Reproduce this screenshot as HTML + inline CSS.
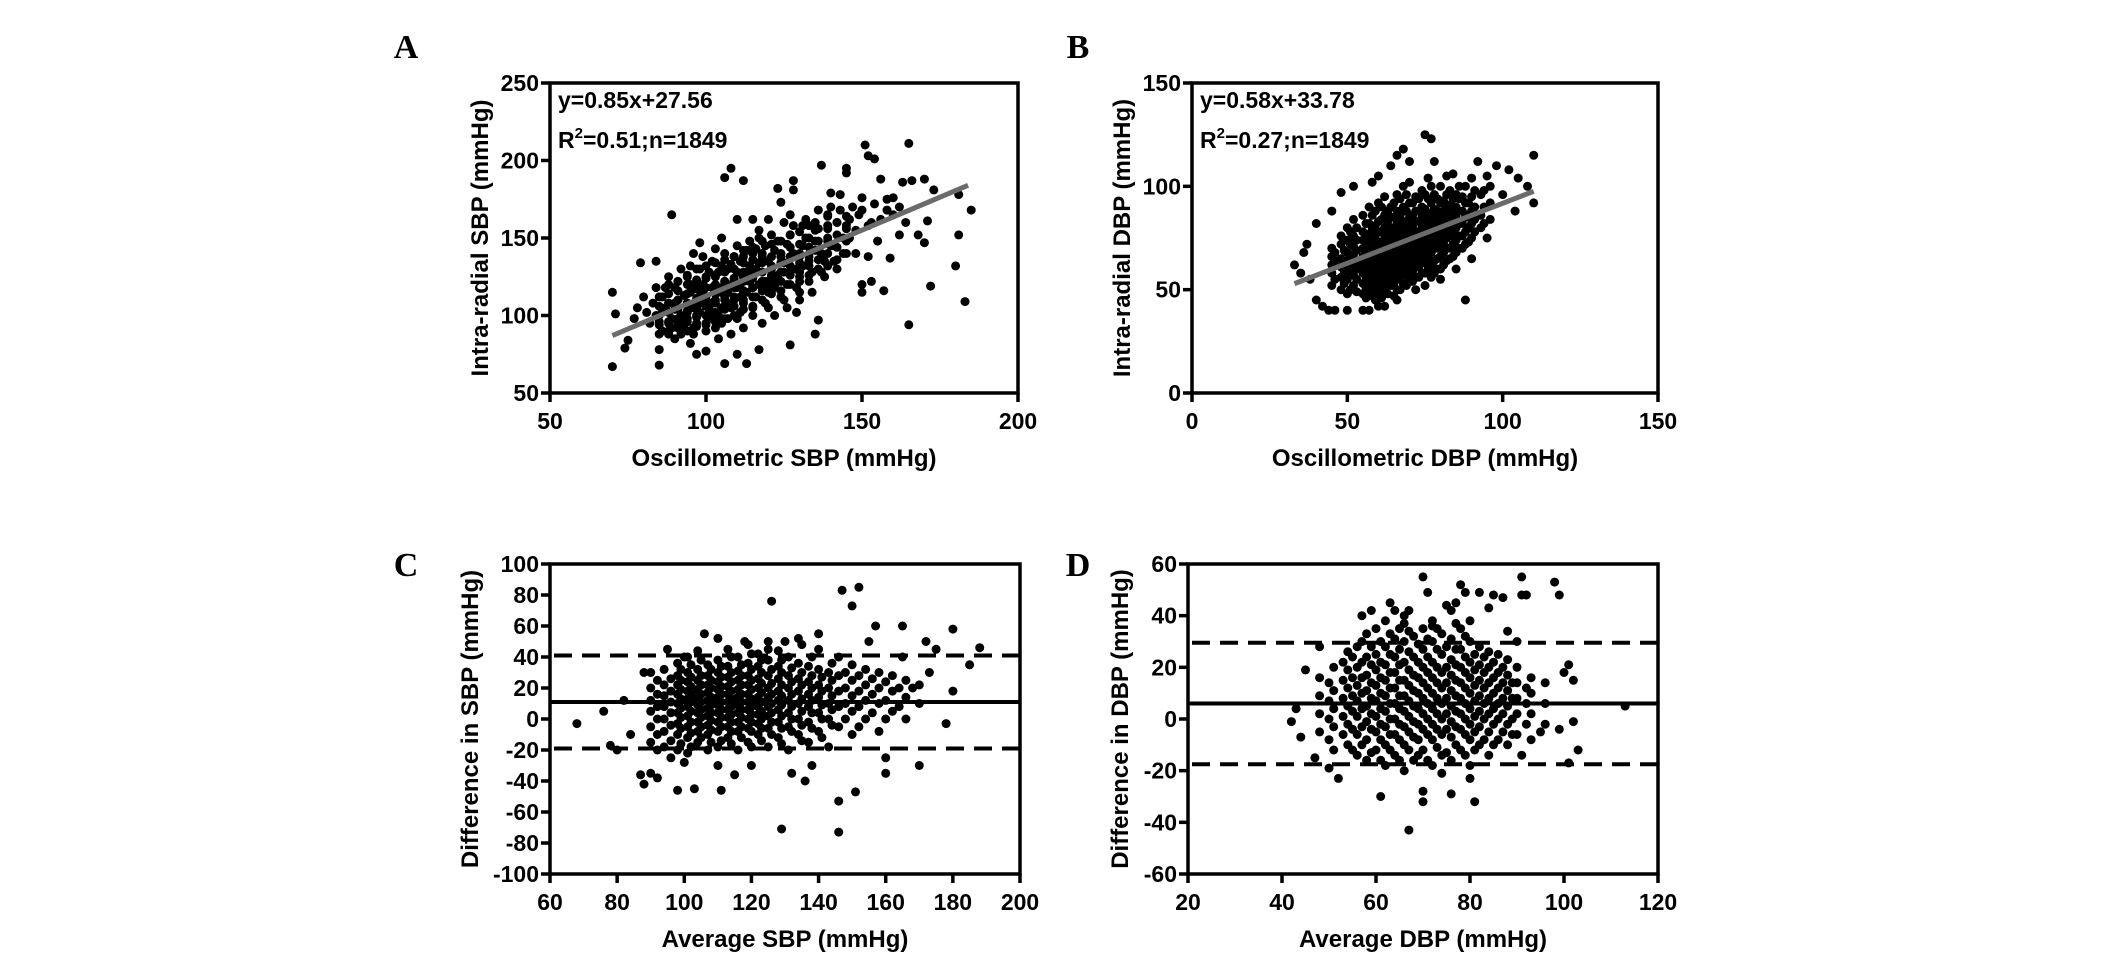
<!DOCTYPE html>
<html><head><meta charset="utf-8"><style>
html,body{margin:0;padding:0;background:#fff;width:2126px;height:954px;overflow:hidden}
svg{display:block}
text{font-family:"Liberation Sans",Arial,sans-serif;font-weight:bold;fill:#000}
.letter{font-family:"Liberation Serif","Times New Roman",serif;font-size:34px}
</style></head><body>
<svg id="fig" width="2126" height="954" viewBox="0 0 2126 954"></svg>
<script>
// ---------- Data ----------
const aPoints = [[70,67],[70,115],[71,101],[74,79],[75,84],[77,98],[79,134],[84,135],[85,68],[85,78],[89,165],[106,189],[108,195],[112,187],[106,69],[110,75],[113,69],[117,78],[127,81],[129,102],[135,88],[136,97],[137,197],[151,210],[152,203],[154,201],[165,211],[165,94],[172,119],[180,132],[181,152],[183,109],[185,168],[181,178],[173,181],[170,188],[166,187],[163,186],[160,176],[157,116],[153,122],[150,115],[150,120],[159,137],[170,147],[168,152],[171,161],[145,192],[145,195],[128,187],[128,181],[123,182],[124,173],[140,179],[143,178],[155,148],[152,138],[148,140],[156,188],[158,168],[162,152],[164,160],[147,170],[150,176],[153,160],[139,165],[142,160],[135,155],[132,150],[125,160],[120,162],[117,155],[115,162],[110,162],[105,150],[98,147],[96,140],[92,130],[88,125],[84,118],[80,112],[78,105],[82,95],[86,90],[90,85],[95,82],[97,75],[100,77],[104,85],[108,88],[112,92],[118,95],[122,100],[126,105],[130,110],[134,115],[138,125],[142,130],[144,140],[146,150],[141,145],[137,140],[133,135],[129,130],[125,128],[121,125],[117,120],[113,115],[109,110],[105,105],[101,100],[97,95],[93,92],[89,98],[87,105],[91,110],[95,115],[99,120],[103,125],[107,130],[111,135],[115,140],[119,145],[123,148],[127,152],[131,145],[135,142],[139,150],[128,140],[124,138],[120,135],[116,130],[112,125],[108,120],[104,115],[100,110],[96,105],[92,100],[88,95],[84,100],[86,112],[90,118],[94,125],[98,130],[102,135],[106,140],[110,145],[114,148],[118,128],[122,118],[126,120],[130,125],[134,128],[138,135],[94,108],[98,112],[102,118],[106,122],[110,128],[114,132],[118,138],[122,142],[126,146],[130,138],[100,95],[104,100],[108,105],[112,108],[116,112],[120,115],[124,112],[96,92],[92,88],[88,88],[90,104],[94,98],[98,102],[102,108],[106,112],[110,118],[114,122],[118,110],[103,92],[107,98],[111,102],[115,105],[119,108],[97,118],[101,128],[105,132],[109,138],[113,142],[117,150],[121,152],[99,138],[103,143],[95,132],[91,122],[87,118],[83,108],[81,102],[85,96],[89,92],[93,96],[97,100],[101,104],[105,118],[109,124],[113,128],[117,134],[121,130],[125,134],[129,118],[133,122],[137,128],[141,135],[145,158],[149,165],[143,168],[139,158],[135,160],[131,158],[127,165],[107,108],[111,112],[115,118],[119,122],[123,126],[100,125],[104,128],[108,133],[112,138],[116,143],[95,120],[99,115],[103,110],[107,115],[111,120],[115,125],[119,118],[93,113],[91,95],[96,88],[100,90],[105,95],[110,98],[115,100],[120,105],[125,110],[130,115],[102,98],[98,108],[94,103],[90,108],[86,102],[140,145],[144,150],[148,155],[152,158],[156,162],[160,165],[146,162],[150,168],[154,172],[158,175],[162,170],[135,148],[131,132],[127,128],[123,122],[128,158],[132,162],[136,168],[140,170]];
const aColumns = [[85,[88,94,100,106,112]],[88,[90,96,102,108,114,120]],[91,[92,98,104,110,116,122]],[94,[90,96,102,108,114,120,126]],[97,[93,99,105,111,117,123,130]],[100,[94,100,106,112,118,124,132]],[103,[96,102,108,114,120,126,134]],[106,[98,104,110,116,122,128,136]],[109,[100,106,112,118,124,130,138]],[112,[104,110,116,122,128,134,142]],[115,[106,112,118,124,130,136,144]],[118,[110,116,122,128,134,140,148]],[121,[114,120,126,132,138,146]],[124,[116,122,128,134,140,148]],[127,[120,126,132,138,144,152]],[130,[122,128,134,140,146,154]],[133,[126,132,138,144,150,158]],[136,[130,136,142,148,156]],[139,[132,140,148,156,164]],[142,[136,144,152,160]],[145,[140,148,156,164]]];

const bOutliers = [[33,62],[35,58],[38,55],[40,45],[42,42],[44,40],[46,40],[50,40],[55,40],[57,40],[60,42],[62,42],[66,45],[72,50],[88,45],[75,125],[77,123],[68,118],[66,115],[70,112],[60,105],[58,102],[52,100],[48,97],[45,88],[40,82],[37,72],[36,68],[110,115],[110,92],[108,100],[105,104],[102,108],[98,110],[92,112],[95,105],[100,96],[104,88],[95,75],[90,65],[85,60],[80,55],[75,52],[64,110],[82,105],[86,100],[78,112]];
const bColumns = [[45,[52,58,62,66,70]],[48,[50,56,61,65,72,76]],[50,[48,55,60,64,68,74,80]],[52,[52,57,62,67,71,76,84]],[55,[48,53,58,62,66,70,74,78,86]],[57,[50,55,60,64,68,72,77,82,90]],[60,[48,52,57,61,65,69,73,78,83,92]],[62,[50,54,59,63,67,71,75,80,86,95]],[64,[52,56,60,64,68,72,76,80,85,90]],[66,[50,55,60,65,69,73,77,82,88,96]],[68,[53,58,62,66,70,74,78,83,90,100]],[70,[55,60,64,68,72,76,80,85,92,102]],[72,[56,61,66,70,74,78,83,88,95]],[74,[58,63,68,72,76,80,85,90,98]],[76,[60,65,70,74,78,82,87,94,104]],[78,[58,64,70,75,80,84,89,96]],[80,[60,66,72,77,82,87,92,100]],[82,[64,70,75,80,85,90,96]],[84,[66,72,78,83,88,94,106]],[86,[70,76,82,88,94]],[88,[72,78,85,92,100]],[90,[75,82,88,95,104]],[93,[80,86,96]],[96,[84,92,100]]];
const bColumns2 = [[46,[55,64,68]],[49,[53,59,63,69,74]],[51,[50,58,62,66,72,78]],[53,[49,55,60,64,69,74,80]],[56,[46,51,56,60,64,68,72,76,82]],[58,[47,53,58,62,66,70,75,80,86]],[59,[45,50,55,59,63,67,71,76,81,88]],[61,[46,52,56,61,65,69,73,78,84,90]],[63,[48,53,58,62,66,70,74,78,83,88]],[65,[47,53,58,62,67,71,75,79,85,92]],[67,[50,56,60,64,68,72,76,80,86,94]],[69,[52,57,62,66,70,74,78,82,88,96]],[71,[54,59,63,68,72,76,81,86,92]],[73,[56,61,65,70,74,78,83,88,94]],[75,[58,63,67,72,76,80,84,89,96]],[77,[56,62,68,72,77,82,86,92,100]],[79,[60,65,70,74,79,84,88,94]],[81,[62,68,73,78,83,88,93]],[83,[65,70,76,81,86,91,98]],[85,[68,74,80,85,90,96]],[87,[70,76,82,88,95]],[89,[73,80,86,92]],[91,[78,84,90,98]],[94,[82,90,98]]];

const cOutliers = [[68,-3],[76,5],[78,-17],[80,-20],[87,-36],[88,-42],[90,-35],[92,-38],[98,-46],[103,-45],[111,-46],[115,-36],[129,-71],[136,-40],[146,-53],[146,-73],[151,-47],[147,83],[150,73],[152,85],[126,76],[157,60],[165,60],[172,50],[175,45],[180,58],[188,46],[180,18],[178,-3],[170,-30],[160,-25],[160,-35],[168,20],[173,30],[165,40],[185,35],[155,50],[140,55],[135,48],[130,50],[125,45],[118,50],[110,52],[106,55],[100,40],[95,45],[132,-35],[138,-30],[120,-30],[110,-30],[100,-28],[96,-25],[92,-20],[84,-10],[82,12],[88,30]];
const cColumns = [[90,[-15,-5,5,12,20,30]],[94,[-18,-8,0,8,15,22,32]],[98,[-20,-10,-3,4,10,16,22,28,36]],[101,[-22,-12,-5,2,8,13,18,24,30,40]],[104,[-15,-8,-2,4,9,14,19,25,32,44]],[107,[-20,-10,-4,2,7,12,17,22,28,35]],[110,[-18,-8,-2,4,9,14,19,24,30,38]],[113,[-12,-5,1,6,11,16,21,27,34,45]],[116,[-20,-8,-2,4,9,14,19,25,31,40]],[119,[-15,-6,0,6,11,16,22,28,36,48]],[122,[-10,-3,3,8,14,20,26,34,42]],[125,[-18,-6,2,8,14,20,28,38,50]],[128,[-12,-2,6,12,18,26,34,44]],[131,[-20,-5,4,12,20,28,40]],[134,[-10,0,10,18,26,36,52]],[137,[-15,-2,8,16,24,34]],[140,[-8,4,14,22,32,45]],[143,[-18,0,10,20,30]],[146,[-5,8,18,28,40]],[150,[-10,5,15,25,35]],[154,[0,12,22,32]],[158,[-8,10,20,30]],[162,[5,18,28]],[166,[0,14,25]],[170,[10,22]]];
const cColumns2 = [[92,[-10,0,8,16,25]],[96,[-14,-4,4,11,18,26]],[99,[-16,-6,1,7,13,19,25,32]],[102,[-18,-9,-2,5,11,16,21,27,35]],[105,[-12,-5,1,6,11,16,22,28,38]],[108,[-15,-7,-1,4,9,14,20,25,32]],[111,[-14,-5,1,6,11,16,21,27,34]],[114,[-16,-8,-2,3,8,13,18,24,30,40]],[117,[-12,-5,1,6,11,16,22,28,35]],[120,[-18,-8,-2,3,8,13,19,25,32,42]],[123,[-14,-6,0,5,11,17,23,30,38]],[126,[-10,-2,4,10,16,23,32]],[129,[-16,-6,2,9,15,22,30,38]],[132,[-8,0,8,16,24,33]],[135,[-14,-4,5,13,22,30]],[138,[-6,4,12,20,28,40]],[141,[-12,0,9,18,27]],[144,[-4,6,15,25,36]],[148,[0,10,20,30]],[152,[-5,8,18,28]],[156,[4,16,26]],[160,[0,12,24]],[164,[8,20]]];

const dOutliers = [[42,-1],[43,4],[44,-7],[45,19],[47,-15],[48,28],[50,-19],[52,-23],[57,40],[59,42],[61,-30],[63,45],[64,42],[67,-43],[70,-28],[70,-32],[70,55],[71,49],[74,-21],[76,-29],[78,52],[79,49],[80,-23],[81,-32],[82,49],[85,48],[87,47],[91,55],[91,48],[92,48],[98,53],[99,48],[100,18],[101,21],[102,15],[103,-12],[102,-1],[99,-4],[113,5],[101,-17],[91,-14],[95,-5],[90,30],[88,34],[75,44],[77,45],[67,42],[66,37],[72,36],[80,38],[84,43]];
const dColumns = [[48,[-5,2,9,16]],[51,[-12,-3,4,11,20]],[54,[-10,-2,5,12,19,26]],[56,[-14,-6,1,7,13,20,28]],[58,[-16,-8,-1,5,11,17,24,33]],[60,[-12,-5,1,7,13,19,25,35]],[62,[-18,-10,-3,3,9,15,21,28,38]],[64,[-14,-6,0,6,12,18,24,31]],[66,[-20,-10,-3,3,9,15,22,30,40]],[68,[-16,-7,-1,5,11,17,24,32]],[70,[-12,-4,2,8,14,20,27,35]],[72,[-18,-8,-2,4,10,16,22,30,38]],[74,[-14,-6,0,6,12,18,25,33]],[76,[-16,-7,-1,5,11,17,23,31,42]],[78,[-12,-4,2,8,14,20,27,35]],[80,[-18,-8,-2,4,10,16,22,30]],[82,[-10,-3,3,9,15,21,28]],[84,[-14,-5,2,8,14,20,26]],[86,[-8,0,6,12,18,25]],[88,[-10,-2,5,11,17,23]],[90,[-6,2,8,14,20]],[93,[-8,2,10,16]],[96,[-2,6,14]]];
const dColumns2 = [[50,[-8,0,7,14]],[53,[-6,1,8,15,22]],[55,[-12,-4,3,9,16,24]],[57,[-10,-3,4,10,16,22,30]],[59,[-13,-4,2,8,14,21,28]],[61,[-16,-8,-2,4,10,16,22,30]],[63,[-12,-6,0,6,12,18,25,33]],[65,[-16,-8,-2,4,9,15,21,27,35]],[67,[-12,-5,1,7,13,19,26,34]],[69,[-14,-8,-2,4,10,16,22,29]],[71,[-16,-6,0,6,12,18,24,31]],[73,[-11,-4,2,8,14,20,27,35]],[75,[-13,-4,2,8,14,20,28]],[77,[-10,-3,3,9,15,21,27,37]],[79,[-14,-6,0,6,12,18,24,32]],[81,[-12,-5,1,7,13,19,25]],[83,[-8,0,6,12,18,24]],[85,[-10,-2,4,10,16,22]],[87,[-5,2,8,14,20]],[89,[-6,0,8,14]],[92,[-2,6,12]]];

const aXTicks = [50,100,150,200];
const aYTicks = [50,100,150,200,250];
const bXTicks = [0,50,100,150];
const bYTicks = [0,50,100,150];
const cXTicks = [60,80,100,120,140,160,180,200];
const cYTicks = [-100,-80,-60,-40,-20,0,20,40,60,80,100];
const dXTicks = [20,40,60,80,100,120];
const dYTicks = [-60,-40,-20,0,20,40,60];

const aFit = [0.85,27.56]; const aFitRange = [70,184];
const bFit = [0.58,33.78]; const bFitRange = [33,110];
const cMean = [11]; const cLimits = [41,-19];
const dMean = [6]; const dLimits = [29.5,-17.5];

// ---------- Drawing ----------
const NS = 'http://www.w3.org/2000/svg';
const svg = document.getElementById('fig');
function mk(tag, attrs, parent){
  const e = document.createElementNS(NS, tag);
  for (const k in attrs) e.setAttribute(k, attrs[k]);
  (parent||svg).appendChild(e);
  return e;
}
function expand(outl, ...colSets){
  const pts = outl.slice();
  colSets.forEach(cols => cols.forEach(c => c[1].forEach(y => pts.push([c[0], y]))));
  return pts;
}

function panel(o){
  const g = mk('g', {});
  
  
  const X = v => o.x0 + (v - o.xd[0]) / (o.xd[1]-o.xd[0]) * (o.x1 - o.x0);
  const Y = v => o.y1 - (v - o.yd[0]) / (o.yd[1]-o.yd[0]) * (o.y1 - o.y0);

  const letter = mk('text', {x:o.lx, y:o.ly, class:'letter', 'text-anchor':'middle'}, g);
  letter.textContent = o.id.toUpperCase();
  
  

  const pg = mk('g', {}, g);
  
  
  o.pts.forEach(p => {
    const c = mk('circle', {cx:X(p[0]).toFixed(1), cy:Y(p[1]).toFixed(1), r:4.5, fill:'#000'}, pg);
    
    
  });

  if (o.fit){
    const l = mk('line', {x1:X(o.fitRange[0]), y1:Y(o.fit[0]*o.fitRange[0]+o.fit[1]), x2:X(o.fitRange[1]), y2:Y(o.fit[0]*o.fitRange[1]+o.fit[1]), stroke:'#6b6b6b', 'stroke-width':5}, g);
    
    
  }
  if (o.mean){
    const m = mk('line', {x1:o.x0, x2:o.x1, y1:Y(o.mean[0]), y2:Y(o.mean[0]), stroke:'#000', 'stroke-width':4}, g);
    
    
    o.limits.forEach((v,i) => {
      const d = mk('line', {x1:o.x0+4, x2:o.x1, y1:Y(v), y2:Y(v), stroke:'#000', 'stroke-width':4, 'stroke-dasharray':'18 10'}, g);
      
      
    });
  }

  const fr = mk('rect', {x:o.x0, y:o.y0, width:o.x1-o.x0, height:o.y1-o.y0, fill:'none', stroke:'#000', 'stroke-width':3.5}, g);
  
  

  o.xt.forEach(v => {
    const t = mk('line', {x1:X(v), x2:X(v), y1:o.y1, y2:o.y1+9, stroke:'#000', 'stroke-width':3.5}, g);
    
    
    const tl = mk('text', {x:X(v), y:o.y1+36, 'text-anchor':'middle', 'font-size':23}, g);
    tl.textContent = v;
    
    
  });
  o.yt.forEach(v => {
    const t = mk('line', {x1:o.x0-9, x2:o.x0, y1:Y(v), y2:Y(v), stroke:'#000', 'stroke-width':3.5}, g);
    
    
    const tl = mk('text', {x:o.x0-11, y:Y(v)+8, 'text-anchor':'end', 'font-size':23}, g);
    tl.textContent = v;
    
    
  });

  const xt = mk('text', {x:(o.x0+o.x1)/2, y:o.y1+73, 'text-anchor':'middle', 'font-size':24}, g);
  xt.textContent = o.xtitle;
  
  
  const yt = mk('text', {x:0, y:0, 'text-anchor':'middle', 'font-size':24, transform:`translate(${o.ytx},${(o.y0+o.y1)/2}) rotate(-90)`}, g);
  yt.textContent = o.ytitle;
  
  

  if (o.eq){
    const e1 = mk('text', {x:o.x0+8, y:o.y0+25, 'font-size':23}, g);
    e1.textContent = o.eq[0];
    
    
    const e2 = mk('text', {x:o.x0+8, y:o.y0+65, 'font-size':23}, g);
    
    
    const t1 = mk('tspan', {}, e2); t1.textContent = 'R';
    const t2 = mk('tspan', {dy:-10, 'font-size':15}, e2); t2.textContent = '2';
    const t3 = mk('tspan', {dy:10}, e2); t3.textContent = o.eq[1];
  }
}

panel({id:'a', x0:550, x1:1018, y0:83, y1:393, xd:[50,200], yd:[50,250], xt:aXTicks, yt:aYTicks,
  pts:expand(aPoints,aColumns), fit:aFit, fitRange:aFitRange, lx:406, ly:58, ytx:488,
  xtitle:'Oscillometric SBP (mmHg)', ytitle:'Intra-radial SBP (mmHg)', eq:['y=0.85x+27.56','=0.51;n=1849']});
panel({id:'b', x0:1192, x1:1658, y0:83, y1:393, xd:[0,150], yd:[0,150], xt:bXTicks, yt:bYTicks,
  pts:expand(bOutliers,bColumns,bColumns2), fit:bFit, fitRange:bFitRange, lx:1078, ly:58, ytx:1130,
  xtitle:'Oscillometric DBP (mmHg)', ytitle:'Intra-radial DBP (mmHg)', eq:['y=0.58x+33.78','=0.27;n=1849']});
panel({id:'c', x0:550, x1:1020, y0:564, y1:874, xd:[60,200], yd:[-100,100], xt:cXTicks, yt:cYTicks,
  pts:expand(cOutliers,cColumns,cColumns2), mean:cMean, limits:cLimits, lx:406, ly:576, ytx:478,
  xtitle:'Average SBP (mmHg)', ytitle:'Difference in SBP (mmHg)'});
panel({id:'d', x0:1188, x1:1658, y0:564, y1:874, xd:[20,120], yd:[-60,60], xt:dXTicks, yt:dYTicks,
  pts:expand(dOutliers,dColumns,dColumns2), mean:dMean, limits:dLimits, lx:1078, ly:576, ytx:1128,
  xtitle:'Average DBP (mmHg)', ytitle:'Difference in DBP (mmHg)'});
</script>
</body></html>
